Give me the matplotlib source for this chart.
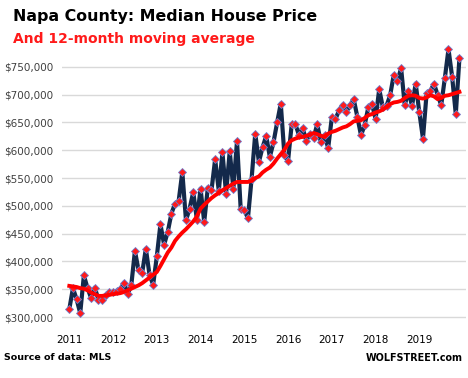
import matplotlib.pyplot as plt
from matplotlib.ticker import FuncFormatter

# monthly median price, Jan 2011 - Dec 2019 (thousand $)
price = [314, 352, 332, 307, 375, 352, 334, 353, 331, 331, 340, 345,
         345, 347, 350, 362, 341, 357, 419, 384, 380, 423, 376, 358,
         409, 467, 430, 453, 486, 504, 509, 561, 474, 495, 525, 475,
         531, 471, 533, 528, 584, 527, 596, 522, 598, 531, 617, 495,
         492, 478, 549, 630, 579, 605, 626, 588, 614, 650, 684, 591,
         581, 647, 647, 627, 640, 617, 630, 622, 647, 614, 627, 604,
         659, 656, 672, 682, 669, 681, 692, 660, 627, 645, 677, 684,
         656, 710, 677, 680, 699, 736, 724, 748, 681, 706, 680, 720,
         668, 621, 703, 706, 720, 700, 681, 730, 782, 732, 665, 766]

# 12-month moving average as drawn (thousand $)
avg = [356, 355, 354, 352, 351, 348, 344, 341, 338, 338, 339, 340,
       341, 342, 343, 345, 348, 351, 354, 357, 361, 366, 371, 376,
       381, 392, 404, 416, 425, 437, 445, 452, 458, 465, 472, 481,
       495, 502, 508, 514, 519, 523, 528, 532, 536, 540, 543, 543,
       543, 543, 545, 550, 553, 560, 565, 569, 576, 585, 593, 601,
       612, 618, 621, 623, 624, 626, 628, 631, 629, 626, 624, 630,
       633, 635, 638, 641, 643, 647, 652, 653, 654, 658, 663, 665,
       668, 670, 673, 678, 683, 686, 687, 689, 694, 698, 699, 698,
       694, 693, 695, 699, 697, 692, 694, 698, 699, 701, 703, 705]

years = ['2011', '2012', '2013', '2014', '2015', '2016', '2017', '2018', '2019']
yticks = [300, 350, 400, 450, 500, 550, 600, 650, 700, 750]

months = list(range(len(price)))
price_usd = [p * 1000 for p in price]
avg_usd = [a * 1000 for a in avg]

fig = plt.figure(figsize=(4.68, 3.78), dpi=100)
ax = fig.add_axes([62 / 468, 0.1466, 404 / 468, 0.750])

ax.plot(months, price_usd, color='#13294b', lw=3.0, zorder=2)
ax.plot(months, price_usd, ls='none', marker='D', ms=3.6, mfc='#ff1a1a',
        mec='#7080d0', mew=0.6, zorder=3)
ax.plot(months, avg_usd, color='#ff0000', lw=2.8, zorder=4)

ax.set_xlim(-2.0, 108.8)
ax.set_ylim(290000, 800000)
ax.set_yticks([v * 1000 for v in yticks])
ax.yaxis.set_major_formatter(FuncFormatter(lambda v, p: '${:,.0f}'.format(v)))
ax.set_xticks([12 * i for i in range(len(years))])
ax.set_xticklabels(years)
ax.tick_params(axis='both', length=0, labelsize=7.5)
ax.tick_params(axis='y', colors='#404040', pad=6)
ax.tick_params(axis='x', colors='black', pad=9)
ax.grid(axis='y', color='#d9d9d9', lw=1)
ax.set_axisbelow(True)
for s in ax.spines.values():
    s.set_visible(False)

fig.text(13 / 468, 1 - 17 / 378, 'Napa County: Median House Price', fontsize=11.4,
         fontweight='bold', va='center', ha='left')
fig.text(13 / 468, 1 - 39 / 378, 'And 12-month moving average', fontsize=10,
         fontweight='bold', color='#ff1a1a', va='center', ha='left')
fig.text(4 / 468, 1 - 358 / 378, 'Source of data: MLS', fontsize=6.8,
         fontweight='bold', va='center', ha='left')
fig.text(463 / 468, 1 - 358 / 378, 'WOLFSTREET.com', fontsize=6.9,
         fontweight='bold', va='center', ha='right')

fig.savefig('out.png', dpi=100)
